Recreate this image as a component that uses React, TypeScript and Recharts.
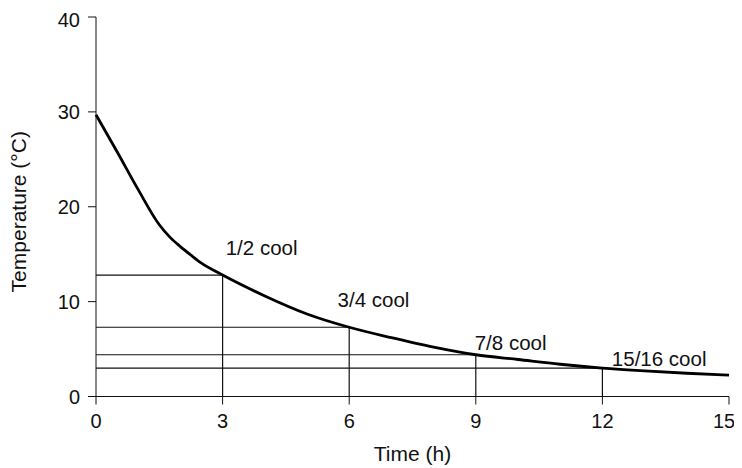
import { Line, LineChart, ReferenceDot, ReferenceLine, XAxis, YAxis } from "recharts";

// cooling curve
const times = [0, 0.5, 1, 1.5, 1.75, 2, 2.25, 2.5, 3, 4, 5, 6, 7, 8, 9, 10, 11, 12, 13, 14, 15];
const temps = [29.7, 25.8, 21.8, 18.1, 16.8, 15.8, 14.9, 14.05, 12.8, 10.6, 8.7, 7.3, 6.2, 5.2, 4.4, 3.9, 3.4, 3.0, 2.7, 2.45, 2.25];

const markTimes = [3, 6, 9, 12];
const markTemps = [12.8, 7.3, 4.4, 3.0];
const markNames = ["1/2 cool", "3/4 cool", "7/8 cool", "15/16 cool"];
// where each caption sits (left edge, vertical centre)
const captionX = [3.05, 5.7, 8.95, 12.2];
const captionY = [15.7, 10.2, 5.65, 4.0];

const xTicks = [0, 3, 6, 9, 12, 15];
const yTicks = [0, 10, 20, 30, 40];

const data = times.map((t, i) => ({ t, temp: temps[i] }));

const font = "'Liberation Sans', Arial, Helvetica, sans-serif";
const tick = { fontSize: 20, fill: "#111", fontFamily: font };

function YLabel(props: any) {
  const vb = props.viewBox || {};
  const x = vb.x + 10;
  const y = vb.y + vb.height / 2 + 5;
  return (
    <text x={x} y={y} transform={`rotate(-90, ${x}, ${y})`} textAnchor="middle" dominantBaseline="central"
      fontSize={21} fontFamily={font} fill="#111">
      Temperature (°C)
    </text>
  );
}

export default function App() {
  return (
    <div style={{ width: 726, height: 460, background: "white" }}>
      <LineChart width={726} height={460} data={data} margin={{ top: 9, right: 5, left: 0, bottom: 7 }}>
        <XAxis dataKey="t" type="number" domain={[0, 15]} ticks={xTicks} tick={tick}
          stroke="#111" tickSize={8} tickMargin={9} height={64.5}
          label={{ value: "Time (h)", position: "insideBottom", offset: 0, fontSize: 21, fontFamily: font, fill: "#111" }} />
        <YAxis type="number" domain={[0, 40]} ticks={yTicks} tick={tick} stroke="#111"
          tickSize={8} tickMargin={8} width={88} label={<YLabel />} />
        {markTimes.map((t, i) => (
          <ReferenceLine key={"h" + i} segment={[{ x: 0, y: markTemps[i] }, { x: t, y: markTemps[i] }]}
            stroke="#111" strokeWidth={1.2} />
        ))}
        {markTimes.map((t, i) => (
          <ReferenceLine key={"v" + i} segment={[{ x: t, y: 0 }, { x: t, y: markTemps[i] }]}
            stroke="#111" strokeWidth={1.2} />
        ))}
        <Line type="monotone" dataKey="temp" stroke="#000" strokeWidth={2.8} dot={false} isAnimationActive={false} />
        {markNames.map((name, i) => (
          <ReferenceDot key={"c" + i} x={captionX[i]} y={captionY[i]} r={1} fill="none" stroke="none"
            label={{ value: name, position: "right", offset: 0, fontSize: 20.5, fontFamily: font, fill: "#111" }} />
        ))}
      </LineChart>
    </div>
  );
}
